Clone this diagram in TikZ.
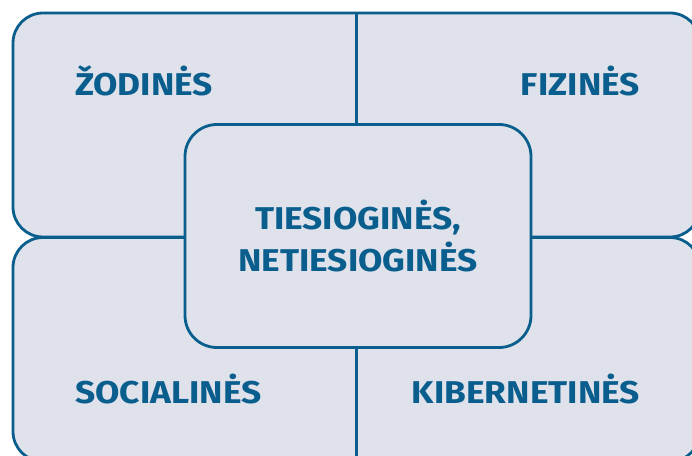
\documentclass[tikz,border=0pt]{standalone}
\usepackage{fontspec}
\setmainfont{Fira Sans}[FakeStretch=1.12]
\usetikzlibrary{positioning}
\definecolor{boxfill}{HTML}{DFE2EB}
\definecolor{darkblue}{HTML}{0A5E8D}

\begin{document}
\begin{tikzpicture}[x=1pt,y=1pt,
        band/.style={draw=darkblue, fill=boxfill, line width=2.8pt, rounded corners=30pt,
                     inner sep=0pt, outer sep=0pt, minimum width=687pt, minimum height=224pt},
        core/.style={band, minimum width=346pt, minimum height=223pt, rounded corners=32pt,
                     align=center, text=darkblue, font=\fontsize{31.5}{42}\selectfont\bfseries},
        lbl/.style={text=darkblue, inner sep=0pt, font=\fontsize{31.5}{37}\selectfont\bfseries}]
            \useasboundingbox (0,0) rectangle (692,455);
            \clip (0,0) rectangle (692,455);
            \fill[white] (0,0) rectangle (692,455);

            \node[band] (top) at (356.5,330)   {};
            \node[band] (bot) at (356.5,105.5) {};
            \draw[darkblue, line width=2.8pt] (top.north) -- (bot.south);
            \node[core] (mid) at (358,219) {TIESIOGINĖS,\\NETIESIOGINĖS};

            \node[lbl, anchor=base west] (zod) at (75,359)  {ŽODINĖS};
            \node[lbl, anchor=base east] (fiz) at (640,359) {FIZINĖS};
            \node[lbl, anchor=base west] (soc) at (75,52)   {SOCIALINĖS};
            \node[lbl, anchor=base east] (kib) at (640,52)  {KIBERNETINĖS};
        \end{tikzpicture}
\end{document}
